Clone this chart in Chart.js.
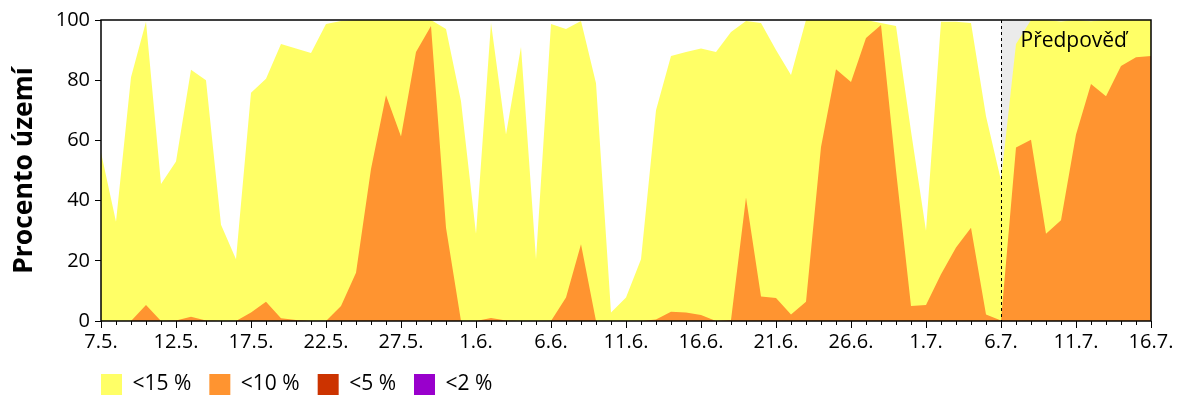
<!DOCTYPE html>
<html>
<head>
<meta charset="utf-8">
<title>Procento území</title>
<script src="https://cdn.jsdelivr.net/npm/chart.js@4.4.1/dist/chart.umd.min.js"></script>
<style>
  body { margin: 0; background: #fff; }
</style>
</head>
<body>
<canvas id="myChart" width="1200" height="400"></canvas>
<script>
// dny (7.5. - 16.7.)
const days = [
  '7.5.', '8.5.', '9.5.', '10.5.', '11.5.', '12.5.', '13.5.', '14.5.', '15.5.', '16.5.',
  '17.5.', '18.5.', '19.5.', '20.5.', '21.5.', '22.5.', '23.5.', '24.5.', '25.5.', '26.5.',
  '27.5.', '28.5.', '29.5.', '30.5.', '31.5.', '1.6.', '2.6.', '3.6.', '4.6.', '5.6.',
  '6.6.', '7.6.', '8.6.', '9.6.', '10.6.', '11.6.', '12.6.', '13.6.', '14.6.', '15.6.',
  '16.6.', '17.6.', '18.6.', '19.6.', '20.6.', '21.6.', '22.6.', '23.6.', '24.6.', '25.6.',
  '26.6.', '27.6.', '28.6.', '29.6.', '30.6.', '1.7.', '2.7.', '3.7.', '4.7.', '5.7.',
  '6.7.', '7.7.', '8.7.', '9.7.', '10.7.', '11.7.', '12.7.', '13.7.', '14.7.', '15.7.',
  '16.7.'
];
const forecastFrom = '6.7.';

// procento území v kategorii
const under15 = [
  56, 33, 81, 99.4, 45.5, 53, 83.5, 80, 32, 20.5,
  75.8, 80.5, 92, 90.5, 89, 98.7, 99.7, 100, 100, 100,
  100, 100, 100, 97, 73, 29, 99, 62, 91, 20.5,
  98.7, 97, 99.7, 79, 2.8, 7.8, 20.5, 70, 88, 89.4,
  90.5, 89.4, 96, 99.7, 99, 90, 81.7, 100, 100, 100,
  100, 100, 99, 98, 63, 30, 99.4, 99.4, 99, 68,
  46.7, 92, 100, 100, 99.5, 100, 99.6, 100, 100, 100,
  100
];
const under10 = [
  0, 0, 0, 5.3, 0, 0.2, 1.4, 0.2, 0, 0,
  2.8, 6.4, 0.9, 0.3, 0, 0, 5, 16, 50.5, 75,
  61.3, 89.4, 98, 31, 0, 0, 1, 0.2, 0, 0,
  0, 7.8, 25.5, 0, 0, 0, 0, 0.5, 3.1, 2.8,
  2, 0, 0.3, 41, 8.1, 7.6, 2.2, 6.4, 57.8, 83.6,
  79.4, 94, 98.3, 50, 5, 5.3, 15.5, 24.4, 31, 2.2,
  0.2, 57.6, 60.2, 29, 33.5, 62, 78.7, 74.7, 84.7, 87.6,
  88
];
const under5 = [
  0, 0, 0, 0, 0, 0, 0, 0, 0, 0,
  0, 0, 0, 0, 0, 0, 0, 0, 0, 0,
  0, 0, 0, 0, 0, 0, 0, 0, 0, 0,
  0, 0, 0, 0, 0, 0, 0, 0, 0, 0,
  0, 0, 0, 0, 0, 0, 0, 0, 0, 0,
  0, 0, 0, 0, 0, 0, 0, 0, 0, 0,
  0, 0, 0, 0, 0, 0, 0, 0, 0, 0,
  0
];
const under2 = [
  0, 0, 0, 0, 0, 0, 0, 0, 0, 0,
  0, 0, 0, 0, 0, 0, 0, 0, 0, 0,
  0, 0, 0, 0, 0, 0, 0, 0, 0, 0,
  0, 0, 0, 0, 0, 0, 0, 0, 0, 0,
  0, 0, 0, 0, 0, 0, 0, 0, 0, 0,
  0, 0, 0, 0, 0, 0, 0, 0, 0, 0,
  0, 0, 0, 0, 0, 0, 0, 0, 0, 0,
  0
];
// seda oblast na zacatku predpovedi
const forecastBand = [
  null, null, null, null, null, null, null, null, null, null,
  null, null, null, null, null, null, null, null, null, null,
  null, null, null, null, null, null, null, null, null, null,
  null, null, null, null, null, null, null, null, null, null,
  null, null, null, null, null, null, null, null, null, null,
  null, null, null, null, null, null, null, null, null, null,
  100, 100, 100, null, null, null, null, null, null, null,
  null
];

const font = 'Open Sans';

// ramecek, minor ticky, predpoved
const framePlugin = {
  id: 'frame',
  afterLayout(chart) {
    chart.legend.left = chart.chartArea.left - chart.options.plugins.legend.labels.padding;
    chart.legend.top = 356;
  },
  afterDatasetsDraw(chart) {
    const ctx = chart.ctx;
    const a = chart.chartArea;
    const x = chart.scales.x;
    const fx = Math.round(x.getPixelForValue(days.indexOf(forecastFrom))) + 0.5;
    ctx.save();
    ctx.strokeStyle = '#000';
    ctx.lineWidth = 1;
    ctx.setLineDash([3, 3]);
    ctx.beginPath();
    ctx.moveTo(fx, a.top);
    ctx.lineTo(fx, a.bottom);
    ctx.stroke();
    ctx.setLineDash([]);

    ctx.beginPath();
    days.forEach((d, i) => {
      const px = Math.round(x.getPixelForValue(i)) + 0.5;
      ctx.moveTo(px, a.bottom);
      ctx.lineTo(px, a.bottom + 4);
    });
    ctx.stroke();

    ctx.lineWidth = 1.5;
    ctx.strokeRect(a.left, a.top, a.right - a.left, a.bottom - a.top);

    ctx.fillStyle = '#000';
    ctx.font = '21px "' + font + '"';
    ctx.textAlign = 'left';
    ctx.textBaseline = 'alphabetic';
    ctx.fillText('Předpověď', fx + 19, 47);
    ctx.restore();
  }
};

const ctx = document.getElementById('myChart');
new Chart(ctx, {
  type: 'line',
  data: {
    labels: days,
    datasets: [
      { label: '<15 %', data: under15, backgroundColor: '#FFFF66', borderColor: '#FFFF66', fill: 'origin', order: 4 },
      { label: '<10 %', data: under10, backgroundColor: '#FF9430', borderColor: '#FF9430', fill: 'origin', order: 3 },
      { label: '<5 %', data: under5, backgroundColor: '#CC3300', borderColor: '#CC3300', fill: 'origin', order: 2 },
      { label: '<2 %', data: under2, backgroundColor: '#9900CC', borderColor: '#9900CC', fill: 'origin', order: 1 },
      { label: '', data: forecastBand, backgroundColor: '#EBEBEB', borderColor: '#EBEBEB', fill: 'origin', order: 5 }
    ]
  },
  options: {
    responsive: false,
    animation: false,
    devicePixelRatio: 1,
    layout: { padding: { top: 20, right: 49, left: 0, bottom: 0 } },
    elements: {
      point: { radius: 0, hoverRadius: 0 },
      line: { borderWidth: 0, tension: 0 }
    },
    plugins: {
      legend: {
        position: 'bottom',
        align: 'start',
        labels: {
          boxWidth: 21,
          boxHeight: 21,
          padding: 18,
          color: '#000',
          font: { size: 21, family: font },
          filter: item => item.text !== '',
          sort: (a, b) => a.datasetIndex - b.datasetIndex
        }
      },
      tooltip: { enabled: false }
    },
    scales: {
      x: {
        type: 'category',
        offset: false,
        border: { display: false },
        grid: {
          drawOnChartArea: false,
          tickLength: 7,
          tickColor: c => (c.index % 5 === 0 ? '#000' : 'rgba(0,0,0,0)')
        },
        ticks: {
          autoSkip: false,
          maxRotation: 0,
          color: '#000',
          padding: 2,
          font: { size: 20, family: font },
          callback: function (value, index) {
            return index % 5 === 0 ? this.getLabelForValue(value) : '';
          }
        },
        afterFit: s => { s.height = 30; }
      },
      y: {
        min: 0,
        max: 100,
        border: { display: false },
        grid: { drawOnChartArea: false, tickLength: 6, tickColor: '#000' },
        ticks: { stepSize: 20, color: '#000', padding: 5, font: { size: 20, family: font } },
        title: {
          display: true,
          text: 'Procento území',
          color: '#000',
          font: { size: 26.5, weight: 'bold', family: font },
          padding: { top: 9, bottom: 0 }
        },
        afterFit: s => { s.width = 101; }
      }
    }
  },
  plugins: [framePlugin]
});
</script>
</body>
</html>
